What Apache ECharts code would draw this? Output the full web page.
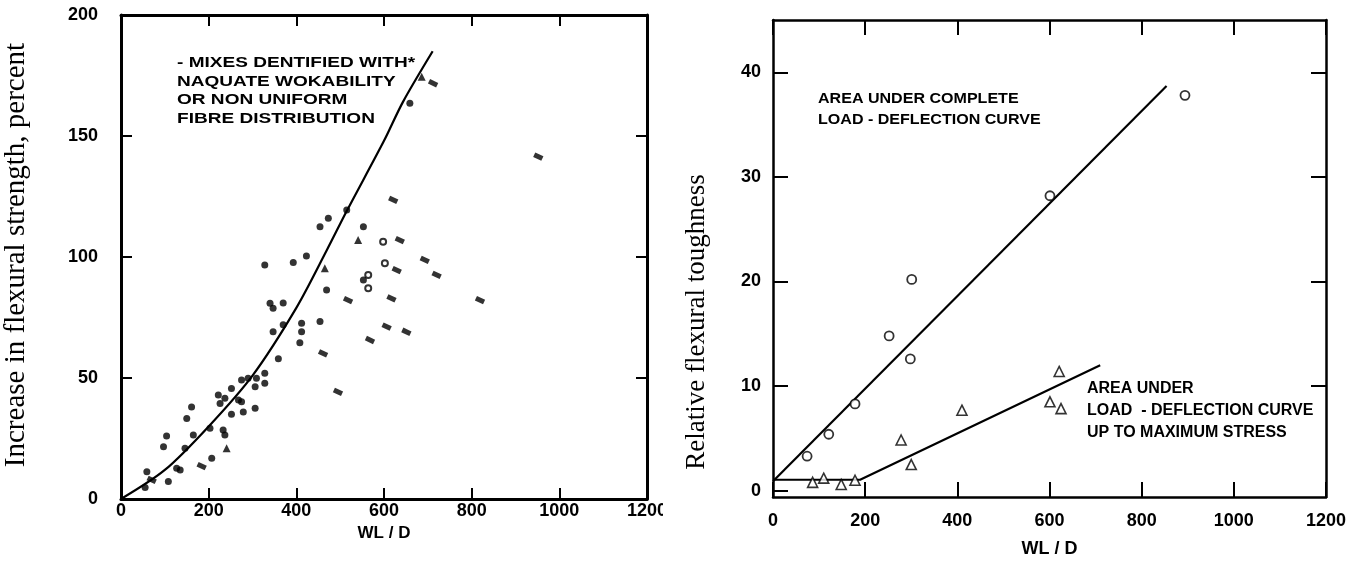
<!DOCTYPE html>
<html>
<head>
<meta charset="utf-8">
<script src="https://cdn.jsdelivr.net/npm/echarts@6/dist/echarts.min.js"></script>
<style>
  html, body { margin: 0; padding: 0; background: #ffffff; }
  #chart { width: 1363px; height: 563px; }
</style>
</head>
<body>
<div id="chart"></div>
<script>
// ---- Left panel: increase in flexural strength vs WL/D ----
const strengthTicks = [0, 50, 100, 150, 200];
const strengthXTicks = [0, 200, 400, 600, 800, 1000, 1200];
// filled blobs
const strengthSolid = [
  [55, 4.8], [59, 11.3], [108, 7.2], [97, 21.6], [104, 26], [127, 12.7], [135, 12],
  [146, 21], [150, 33.3], [161, 38], [165, 26.4], [203, 29.2], [207, 16.8], [222, 43],
  [226, 39.5], [233, 28.5], [237, 26.4], [237, 41.6], [252, 45.7], [252, 35], [268, 40.9],
  [275, 40.2], [275, 49.2], [279, 36], [290, 49.9], [306, 37.5], [306, 46.4], [309, 49.9],
  [328, 52], [328, 47.8], [328, 96.7], [340, 80.9], [347, 78.8], [347, 69.1], [359, 58],
  [370, 81], [370, 72], [393, 97.7], [412, 72.6], [412, 69.1], [408, 64.6], [423, 100.4],
  [454, 73.3], [469, 86.4], [553, 90.5], [659, 163.5], [553, 112.5], [515, 119.4],
  [473, 116], [454, 112.5]
];
// short slanted dashes
const strengthDash = [
  [70, 7.9], [184, 13.6], [461, 60.2], [495, 44.3], [518, 82.2], [568, 65.7], [629, 94.6],
  [617, 82.9], [606, 71.2], [651, 69.1], [693, 98.8], [720, 92.6], [819, 82.2],
  [952, 141.5], [712, 171.8], [621, 123.6], [636, 107]
];
const strengthTriangle = [[465, 95.3], [541, 107], [686, 174.5], [241, 21]];
const strengthOpen = [[564, 92.6], [564, 87.1], [602, 97.4], [598, 106.3]];
// fitted trend curve
const strengthCurve = [
  [0, 0], [100, 12], [200, 30], [300, 51], [400, 79], [470, 103], [515, 119],
  [600, 148], [643, 164], [711, 185]
];
const strengthNote = [
  '- MIXES DENTIFIED WITH*',
  'NAQUATE WOKABILITY',
  'OR NON UNIFORM',
  'FIBRE DISTRIBUTION'
];

// ---- Right panel: relative flexural toughness vs WL/D ----
const toughTicks = [0, 10, 20, 30, 40];
const toughXTicks = [0, 200, 400, 600, 800, 1000, 1200];
const toughComplete = [
  [74, 3.3], [121, 5.4], [178, 8.3], [252, 14.8], [298, 12.6], [301, 20.2], [601, 28.2], [894, 37.8]
];
const toughMaxStress = [
  [86, 0.8], [110, 1.2], [148, 0.6], [178, 1.0], [278, 4.85], [300, 2.5], [410, 7.7],
  [621, 11.4], [601, 8.5], [625, 7.85]
];
const toughCompleteLine = [[0, 0.9], [854, 38.7]];
const toughMaxStressLine = [[0, 1.05], [189, 1.05], [710, 12]];
const toughNoteTop = ['AREA UNDER COMPLETE', 'LOAD - DEFLECTION CURVE'];
const toughNoteBottom = ['AREA UNDER', 'LOAD  - DEFLECTION CURVE', 'UP TO MAXIMUM STRESS'];

const INK = '#000000';
const tickFont = { fontFamily: 'Liberation Sans', fontWeight: 'bold', fontSize: 18, color: INK };
const plain = (v) => String(v);

function frameAxis(extra) {
  return Object.assign({
    type: 'value',
    axisLine: { show: true, onZero: false, lineStyle: { color: INK, width: 3 } },
    splitLine: { show: false }
  }, extra);
}

const chart = echarts.init(document.getElementById('chart'), null, { renderer: 'canvas' });

const option = {
  backgroundColor: '#ffffff',
  animation: false,
  grid: [
    { left: 121, top: 15, width: 526, height: 484 },
    { left: 773, top: 20, width: 553, height: 477 }
  ],
  xAxis: [
    frameAxis({
      gridIndex: 0, min: 0, max: 1200, interval: 200,
      name: 'WL / D', nameLocation: 'middle', nameGap: 15,
      nameTextStyle: { fontFamily: 'Liberation Sans', fontWeight: 'bold', fontSize: 17, color: INK },
      axisTick: { show: true, inside: true, length: 11, lineStyle: { color: INK, width: 2 } },
      axisLabel: Object.assign({ margin: 3, formatter: plain }, tickFont)
    }),
    frameAxis({
      gridIndex: 0, min: 0, max: 1200, interval: 200, position: 'top',
      axisTick: { show: true, inside: true, length: 11, lineStyle: { color: INK, width: 2 } },
      axisLabel: { show: false }
    }),
    frameAxis({
      gridIndex: 1, min: 0, max: 1200, interval: 200,
      name: 'WL / D', nameLocation: 'middle', nameGap: 43,
      nameTextStyle: { fontFamily: 'Liberation Sans', fontWeight: 'bold', fontSize: 18, color: INK },
      axisLine: { show: true, onZero: false, lineStyle: { color: INK, width: 2.5 } },
      axisTick: { show: true, inside: true, length: 15, lineStyle: { color: INK, width: 2 } },
      axisLabel: Object.assign({ margin: 15, formatter: plain }, tickFont)
    }),
    frameAxis({
      gridIndex: 1, min: 0, max: 1200, interval: 200, position: 'top',
      axisLine: { show: true, onZero: false, lineStyle: { color: INK, width: 2.5 } },
      axisTick: { show: true, inside: true, length: 15, lineStyle: { color: INK, width: 2 } },
      axisLabel: { show: false }
    })
  ],
  yAxis: [
    frameAxis({
      gridIndex: 0, min: 0, max: 200, interval: 50,
      axisTick: { show: true, inside: true, length: 11, lineStyle: { color: INK, width: 2 } },
      axisLabel: Object.assign({ margin: 23, formatter: plain }, tickFont)
    }),
    frameAxis({
      gridIndex: 0, min: 0, max: 200, interval: 50, position: 'right',
      axisTick: { show: true, inside: true, length: 11, lineStyle: { color: INK, width: 2 } },
      axisLabel: { show: false }
    }),
    frameAxis({
      gridIndex: 1, min: -0.6, max: 45,
      axisLine: { show: true, onZero: false, lineStyle: { color: INK, width: 2.5 } },
      axisTick: { show: true, inside: true, length: 15, customValues: toughTicks, lineStyle: { color: INK, width: 2 } },
      axisLabel: Object.assign({ margin: 12, customValues: toughTicks, formatter: plain }, tickFont)
    }),
    frameAxis({
      gridIndex: 1, min: -0.6, max: 45, position: 'right',
      axisLine: { show: true, onZero: false, lineStyle: { color: INK, width: 2.5 } },
      axisTick: { show: true, inside: true, length: 15, customValues: toughTicks.slice(1), lineStyle: { color: INK, width: 2 } },
      axisLabel: { show: false, customValues: toughTicks }
    })
  ],
  series: [
    {
      type: 'line', xAxisIndex: 0, yAxisIndex: 0, data: strengthCurve,
      smooth: 0.3, symbol: 'none', lineStyle: { color: INK, width: 2.2 }, z: 3
    },
    {
      type: 'scatter', xAxisIndex: 0, yAxisIndex: 0, data: strengthSolid,
      symbol: 'circle', symbolSize: 7, itemStyle: { color: INK }
    },
    {
      type: 'scatter', xAxisIndex: 0, yAxisIndex: 0, data: strengthDash,
      symbol: 'rect', symbolSize: [9, 5], symbolRotate: -25, itemStyle: { color: INK }
    },
    {
      type: 'scatter', xAxisIndex: 0, yAxisIndex: 0, data: strengthTriangle,
      symbol: 'triangle', symbolSize: 8, itemStyle: { color: INK }
    },
    {
      type: 'scatter', xAxisIndex: 0, yAxisIndex: 0, data: strengthOpen,
      symbol: 'circle', symbolSize: 6,
      itemStyle: { color: '#ffffff', borderColor: INK, borderWidth: 2 }
    },
    {
      type: 'line', xAxisIndex: 2, yAxisIndex: 2, data: toughCompleteLine,
      symbol: 'none', lineStyle: { color: INK, width: 2.2 }
    },
    {
      type: 'line', xAxisIndex: 2, yAxisIndex: 2, data: toughMaxStressLine,
      symbol: 'none', lineStyle: { color: INK, width: 2.2 }
    },
    {
      type: 'scatter', xAxisIndex: 2, yAxisIndex: 2, data: toughComplete,
      symbol: 'circle', symbolSize: 9,
      itemStyle: { color: '#ffffff', borderColor: INK, borderWidth: 1.8 }, z: 4
    },
    {
      type: 'scatter', xAxisIndex: 2, yAxisIndex: 2, data: toughMaxStress,
      symbol: 'triangle', symbolSize: 10,
      itemStyle: { color: '#ffffff', borderColor: INK, borderWidth: 1.6 }, z: 4
    }
  ],
  graphic: [
    {
      // the left panel ends here, trimming its last tick label
      type: 'rect', shape: { x: 663, y: 500, width: 12, height: 26 },
      style: { fill: '#ffffff' }, z: 100
    },
    {
      type: 'text', x: 16, y: 255, rotation: Math.PI / 2,
      style: {
        text: 'Increase in flexural strength, percent',
        font: '29px "Liberation Serif"', fill: INK, align: 'center', verticalAlign: 'middle'
      }
    },
    {
      type: 'text', x: 697, y: 322, rotation: Math.PI / 2,
      style: {
        text: 'Relative flexural toughness',
        font: '27px "Liberation Serif"', fill: INK, align: 'center', verticalAlign: 'middle'
      }
    },
    {
      type: 'text', x: 177, y: 54, scaleX: 1.27,
      style: {
        text: strengthNote.join('\n'), font: 'bold 15px "Liberation Sans"', lineHeight: 18.5,
        fill: INK, align: 'left', verticalAlign: 'top'
      }
    },
    {
      type: 'text', x: 818, y: 88, scaleX: 1.07,
      style: {
        text: toughNoteTop.join('\n'), font: 'bold 15px "Liberation Sans"', lineHeight: 21.5,
        fill: INK, align: 'left', verticalAlign: 'top'
      }
    },
    {
      type: 'text', x: 1087, y: 378, scaleX: 1.0,
      style: {
        text: toughNoteBottom.join('\n'), font: 'bold 16px "Liberation Sans"', lineHeight: 22,
        fill: INK, align: 'left', verticalAlign: 'top'
      }
    }
  ]
};

chart.setOption(option);
</script>
</body>
</html>
